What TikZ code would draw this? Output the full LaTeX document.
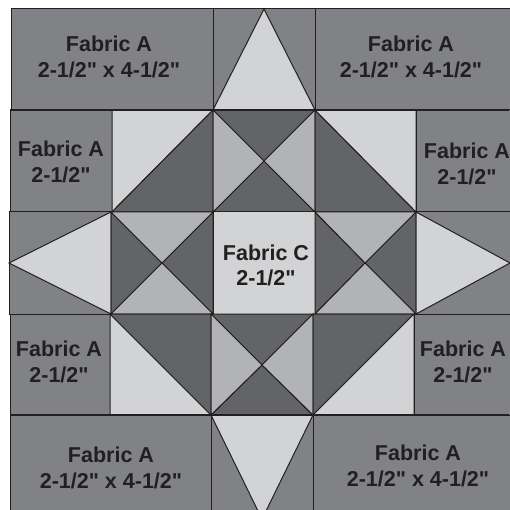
\documentclass[tikz,border=0pt]{standalone}
\usepackage{fontspec}
\newfontfamily\fabricfont{Liberation Sans}
\definecolor{fabrica}{HTML}{808285}
\definecolor{fabricb}{HTML}{636466}
\definecolor{fabricc}{HTML}{D1D3D4}
\definecolor{fabricd}{HTML}{B1B3B6}
\definecolor{inkline}{HTML}{231F20}

\begin{document}
\begin{tikzpicture}[
    x=1pt,
    y=-1pt,
    patch/.style={
        draw=inkline,
        line width=1pt,
        line join=miter
    },
    plain/.style={
        patch,
        fill=fabrica
    },
    dark/.style={
        patch,
        fill=fabricb
    },
    light/.style={
        patch,
        fill=fabricc
    },
    medium/.style={
        patch,
        fill=fabricd
    },
    seam/.style={
        draw=inkline,
        line width=1.6pt
    },
    label/.style={
        font=\fabricfont\bfseries\fontsize{21.5}{25.5}\selectfont,
        text=inkline,
        align=center,
        inner sep=0pt
    }
]
    \useasboundingbox (0,0) rectangle (509,510);

    % --- Top Row ---
    \path [plain] (11,9) rectangle (213,110);
    \path [plain] (213,9) rectangle (315,110);
    \path [plain] (315,9) rectangle (512,110);
    \path [light] (264,9) -- (315,110) -- (213,110) -- cycle;

    % --- Second Row ---
    \path [plain] (10,110) rectangle (112,212);
    \path [light] (112,110) -- (213,110) -- (112,212) -- cycle;
    \path [dark] (213,110) -- (213,212) -- (112,212) -- cycle;
    \path [dark] (213,110) -- (315,110) -- (264,161) -- cycle;
    \path [dark] (213,212) -- (315,212) -- (264,161) -- cycle;
    \path [medium] (213,110) -- (264,161) -- (213,212) -- cycle;
    \path [medium] (315,110) -- (264,161) -- (315,212) -- cycle;
    \path [dark] (315,110) -- (416,212) -- (315,212) -- cycle;
    \path [light] (315,110) -- (416,110) -- (416,212) -- cycle;
    \path [plain] (416,110) rectangle (512,212);

    % --- Middle Row ---
    \path [plain] (9,212) rectangle (111,314);
    \path [light] (9,263) -- (111,212) -- (111,314) -- cycle;
    \path [dark] (111,212) -- (162,263) -- (111,314) -- cycle;
    \path [dark] (213,212) -- (162,263) -- (213,314) -- cycle;
    \path [medium] (111,212) -- (213,212) -- (162,263) -- cycle;
    \path [medium] (111,314) -- (213,314) -- (162,263) -- cycle;
    \path [light] (213,212) rectangle (315,314);
    \path [dark] (315,212) -- (365,263) -- (315,314) -- cycle;
    \path [dark] (416,212) -- (365,263) -- (416,314) -- cycle;
    \path [medium] (315,212) -- (416,212) -- (365,263) -- cycle;
    \path [medium] (315,314) -- (416,314) -- (365,263) -- cycle;
    \path [plain] (416,212) rectangle (512,314);
    \path [light] (510,263) -- (416,212) -- (416,314) -- cycle;

    % --- Fourth Row ---
    \path [plain] (10,314) rectangle (110,415);
    \path [light] (110,314) -- (211,415) -- (110,415) -- cycle;
    \path [dark] (110,314) -- (211,314) -- (211,415) -- cycle;
    \path [dark] (211,314) -- (313,314) -- (262,365) -- cycle;
    \path [dark] (211,415) -- (313,415) -- (262,365) -- cycle;
    \path [medium] (211,314) -- (262,365) -- (211,415) -- cycle;
    \path [medium] (313,314) -- (262,365) -- (313,415) -- cycle;
    \path [dark] (313,314) -- (414,314) -- (313,415) -- cycle;
    \path [light] (414,314) -- (414,415) -- (313,415) -- cycle;
    \path [plain] (414,314) rectangle (512,415);

    % --- Bottom Row ---
    \path [plain] (10,415) rectangle (211,513);
    \path [plain] (211,415) rectangle (313,513);
    \path [plain] (313,415) rectangle (512,513);
    \path [light] (211,415) -- (313,415) -- (265,513) -- (259,513) -- cycle;

    % --- Heavy Seams ---
    \path [seam] (10,110) -- (509,110);
    \path [seam] (10,415) -- (509,415);

    % --- Labels ---
    \node [label] (topleft) at (109,57) {Fabric A\\2-1/2" x 4-1/2"};
    \node [label] (topright) at (411,57) {Fabric A\\2-1/2" x 4-1/2"};
    \node [label] (upperleft) at (61,162) {Fabric A\\2-1/2"};
    \node [label] (upperright) at (467,164) {Fabric A\\2-1/2"};
    \node [label] (center) at (266,265.5) {Fabric C\\2-1/2"};
    \node [label] (lowerleft) at (59,362) {Fabric A\\2-1/2"};
    \node [label] (lowerright) at (463,362) {Fabric A\\2-1/2"};
    \node [label] (bottomleft) at (111,468) {Fabric A\\2-1/2" x 4-1/2"};
    \node [label] (bottomright) at (418,466) {Fabric A\\2-1/2" x 4-1/2"};

\end{tikzpicture}
\end{document}
